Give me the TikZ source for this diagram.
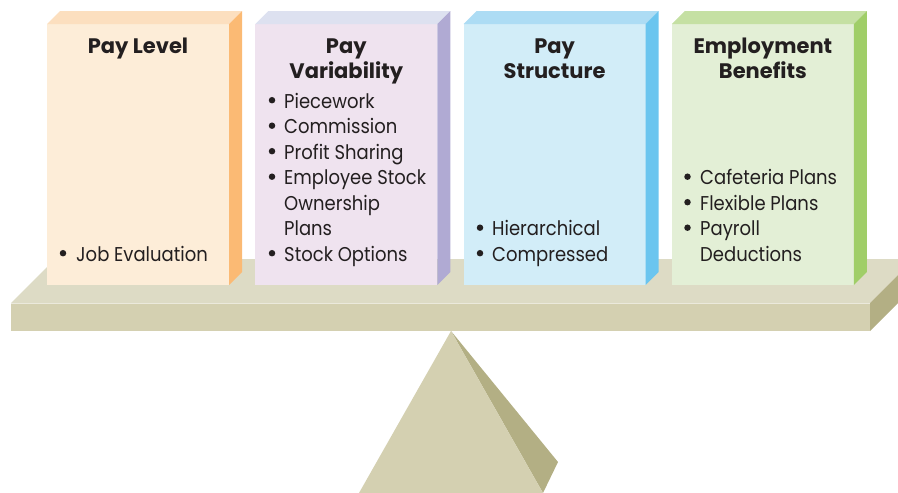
\documentclass[tikz,border=0pt]{standalone}
\usepackage{fontspec}
\setmainfont{Poppins}
\newfontfamily\bodyfont[FakeStretch=0.9]{Poppins}
\newfontfamily\headfont{Poppins}
\definecolor{txt}{HTML}{231F20}
\definecolor{f1}{HTML}{FDEDD8}\definecolor{t1}{HTML}{FCDFBF}\definecolor{s1}{HTML}{FBBA74}
\definecolor{f2}{HTML}{EFE3EF}\definecolor{t2}{HTML}{DDE1F0}\definecolor{s2}{HTML}{B0AAD3}
\definecolor{f3}{HTML}{D2EDF8}\definecolor{t3}{HTML}{ADDCF4}\definecolor{s3}{HTML}{6BC5EF}
\definecolor{f4}{HTML}{E3EFD6}\definecolor{t4}{HTML}{C5E0A3}\definecolor{s4}{HTML}{A0CE68}
\definecolor{pltop}{HTML}{DDDBC5}\definecolor{plfront}{HTML}{D4D0B1}\definecolor{plside}{HTML}{B3AF84}
\newcommand{\slab}[4]{%
  \fill[#2] (#1,24) rectangle ++(182,261);
  \fill[#3] (#1,24) -- ++(182,0) -- ++(13,-13) -- ++(-182,0) -- cycle;
  \fill[#4] (#1+182,24) -- ++(13,-13) -- ++(0,261) -- ++(-13,13) -- cycle;
}
\begin{document}
\begin{tikzpicture}[x=1pt,y=-1pt,
  head/.style={anchor=base,inner sep=0pt,text=txt,font=\headfont\bfseries\fontsize{21}{25}\selectfont},
  item/.style={anchor=base west,inner sep=0pt,text=txt,font=\bodyfont\fontsize{20}{25}\selectfont},
  bul/.style={circle,fill=txt,inner sep=0pt,minimum size=6.5pt}]
\useasboundingbox (0,0) rectangle (898,493);
\begin{scope}
\clip (0,0) rectangle (898,493);
% pyramid
\fill[plside] (451,331) -- (558,462) -- (543,493) -- cycle;
\fill[plfront] (451,331) -- (359,493) -- (543,493) -- cycle;
% plank
\fill[pltop] (11,303) -- (870,303) -- (914,259) -- (55,259) -- cycle;
\fill[plfront] (11,303) rectangle (870,331);
\fill[plside] (870,303) -- (914,259) -- (914,287) -- (870,331) -- cycle;
\draw[white!40!pltop, line width=0.8pt] (11,303.4) -- (870,303.4);
\end{scope}
% boxes
\slab{47}{f1}{t1}{s1}
\slab{255.3}{f2}{t2}{s2}
\slab{463.6}{f3}{t3}{s3}
\slab{671.9}{f4}{t4}{s4}
% titles
\node[head] (h1) at (138,53) {Pay Level};
\node[head] (h2a) at (346.3,53) {Pay};
\node[head] (h2b) at (346.3,78) {Variability};
\node[head] (h3a) at (554.6,53) {Pay};
\node[head] (h3b) at (554.6,78) {Structure};
\node[head] (h4a) at (762.9,53) {Employment};
\node[head] (h4b) at (762.9,78) {Benefits};
% box 1 list
\node[bul] (d1a) at (63,261-7.8) {};
\node[item] (i1a) at (76,261) {Job Evaluation};
% box 2 list
\node[bul] (d2a) at (272,108-7.8) {};
\node[item] (i2a) at (284,108) {Piecework};
\node[bul] (d2b) at (272,133.5-7.8) {};
\node[item] (i2b) at (284,133.5) {Commission};
\node[bul] (d2c) at (272,159-7.8) {};
\node[item] (i2c) at (284,159) {Profit Sharing};
\node[bul] (d2d) at (272,184.5-7.8) {};
\node[item] (i2d) at (284,184.5) {Employee Stock};
\node[item] (i2e) at (284,210) {Ownership};
\node[item] (i2f) at (284,235.5) {Plans};
\node[bul] (d2g) at (272,261-7.8) {};
\node[item] (i2g) at (284,261) {Stock Options};
% box 3 list
\node[bul] (d3a) at (480,235.5-7.8) {};
\node[item] (i3a) at (492,235.5) {Hierarchical};
\node[bul] (d3b) at (480,261-7.8) {};
\node[item] (i3b) at (492,261) {Compressed};
% box 4 list
\node[bul] (d4a) at (687.5,184.5-7.8) {};
\node[item] (i4a) at (700,184.5) {Cafeteria Plans};
\node[bul] (d4b) at (687.5,210-7.8) {};
\node[item] (i4b) at (700,210) {Flexible Plans};
\node[bul] (d4c) at (687.5,235.5-7.8) {};
\node[item] (i4c) at (700,235.5) {Payroll};
\node[item] (i4d) at (700,261) {Deductions};
\end{tikzpicture}
\end{document}
